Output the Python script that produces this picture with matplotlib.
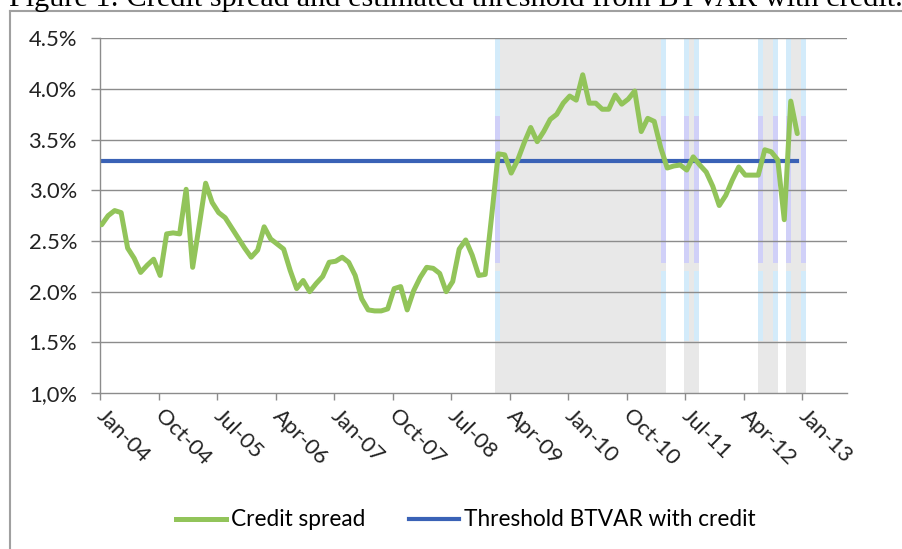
import numpy as np
import matplotlib
matplotlib.use("Agg")
import matplotlib.pyplot as plt
from matplotlib.lines import Line2D

# ------------------------------------------
# Data (monthly, Jan-04 .. Dec-12, in %)
# ------------------------------------------
credit_spread = [
    2.66, 2.75, 2.80, 2.78, 2.43, 2.33, 2.19, 2.26, 2.32, 2.16,
    2.57, 2.58, 2.57, 3.01, 2.24, 2.65, 3.07, 2.88, 2.78, 2.73,
    2.63, 2.53, 2.43, 2.34, 2.41, 2.64, 2.52, 2.47, 2.42, 2.21,
    2.03, 2.11, 2.00, 2.08, 2.15, 2.29, 2.30, 2.34, 2.29, 2.16,
    1.93, 1.82, 1.81, 1.81, 1.83, 2.03, 2.05, 1.82, 2.01, 2.14,
    2.24, 2.23, 2.18, 2.00, 2.10, 2.42, 2.51, 2.36, 2.16, 2.17,
    2.75, 3.36, 3.35, 3.17, 3.30, 3.47, 3.62, 3.48, 3.58, 3.70,
    3.75, 3.86, 3.93, 3.89, 4.14, 3.86, 3.86, 3.80, 3.80, 3.94,
    3.85, 3.90, 3.98, 3.58, 3.71, 3.68, 3.42, 3.22, 3.24, 3.25,
    3.20, 3.33, 3.25, 3.18, 3.04, 2.85, 2.95, 3.10, 3.23, 3.15,
    3.15, 3.15, 3.40, 3.38, 3.30, 2.71, 3.88, 3.56,
]
threshold = 3.29

# high-regime periods, in months since Jan-04
regimes = [(60.8, 87.1), (89.85, 92.15), (101.2, 104.3), (105.5, 108.6)]

tick_labels = ["Jan-04", "Oct-04", "Jul-05", "Apr-06", "Jan-07", "Oct-07", "Jul-08",
               "Apr-09", "Jan-10", "Oct-10", "Jul-11", "Apr-12", "Jan-13"]
y_ticks = [1.0, 1.5, 2.0, 2.5, 3.0, 3.5, 4.0, 4.5]
y_labels = ["1,0%", "1.5%", "2.0%", "2.5%", "3.0%", "3.5%", "4.0%", "4.5%"]

months = np.arange(len(credit_spread)) + 0.25

# ------------------------------------------
# Figure
# ------------------------------------------
plt.rcParams["font.family"] = ["Lato", "DejaVu Sans"]

W, H = 903, 549
fig = plt.figure(figsize=(W / 100, H / 100), dpi=100)
ax = fig.add_axes([100 / W, 1 - 393 / H, 747 / W, (393 - 38.3) / H])

grey_line = "#8c8c8c"
ax.set_xlim(0, 114.9)
ax.set_ylim(1.0, 4.5)

# regime bars with the pale edge stripes
stripe_w = 0.75
def frac(v):
    return (v - 1.0) / 3.5

for a, b in regimes:
    ax.axvspan(a, b, color="#e8e8e8", lw=0, zorder=0)
    for s in (a, b - stripe_w):
        ax.axvspan(s, s + stripe_w, frac(3.73), 1.0, color="#d3ebfa", lw=0, zorder=0.5)
        ax.axvspan(s, s + stripe_w, frac(2.28), frac(3.73), color="#d0d0f8", lw=0, zorder=0.5)
        ax.axvspan(s, s + stripe_w, frac(1.51), frac(2.20), color="#d3ebfa", lw=0, zorder=0.5)

# gridlines
for v in y_ticks[1:]:
    ax.axhline(v, color=grey_line, lw=1.0, zorder=1)

ax.plot(months, credit_spread, color="#92c45a", lw=3.6, solid_joinstyle="round",
        solid_capstyle="round", zorder=3)
ax.plot([0, months[-1]], [threshold, threshold], color="#3a62b6", lw=3.0, zorder=2.5)

for side in ("top", "right"):
    ax.spines[side].set_visible(False)
for side in ("left", "bottom"):
    ax.spines[side].set_color(grey_line)
    ax.spines[side].set_linewidth(1.0)

ax.set_yticks(y_ticks)
ax.set_yticklabels(y_labels)
ax.set_xticks(np.arange(0, 109, 9))
ax.set_xticklabels(tick_labels, rotation=-45, ha="left", va="center", rotation_mode="anchor")
ax.tick_params(axis="y", length=6.5, width=1.0, color=grey_line, pad=10, labelsize=15.8,
               labelcolor="#222222")
ax.tick_params(axis="x", length=5, width=1.0, color=grey_line, pad=9.5, labelsize=15.8,
               labelcolor="#222222")

# legend
handles = [Line2D([], [], color="#92c45a", lw=3.6),
           Line2D([], [], color="#3a62b6", lw=3.0)]
fig.legend(handles, ["Credit spread", "Threshold BTVAR with credit"], loc="center",
           bbox_to_anchor=(466 / W, 1 - 520 / H), ncol=2, frameon=False, fontsize=16.3,
           handlelength=2.2, handletextpad=0.25, columnspacing=1.9)

# frame of the pasted figure and the cut-off caption
fig.add_artist(Line2D([10 / W, 10 / W], [0, 1 - 11 / H], transform=fig.transFigure,
                      color="#a0a0a0", lw=1.5))
fig.add_artist(Line2D([10 / W, 1], [1 - 11 / H, 1 - 11 / H], transform=fig.transFigure,
                      color="#a0a0a0", lw=1.5))
fig.text(9 / W, 1 - 6 / H,
         "Figure 1: Credit spread and estimated threshold from BTVAR with credit.",
         family="Liberation Serif", fontsize=21.8, va="baseline", color="black")

fig.savefig("out.png", dpi=100)
